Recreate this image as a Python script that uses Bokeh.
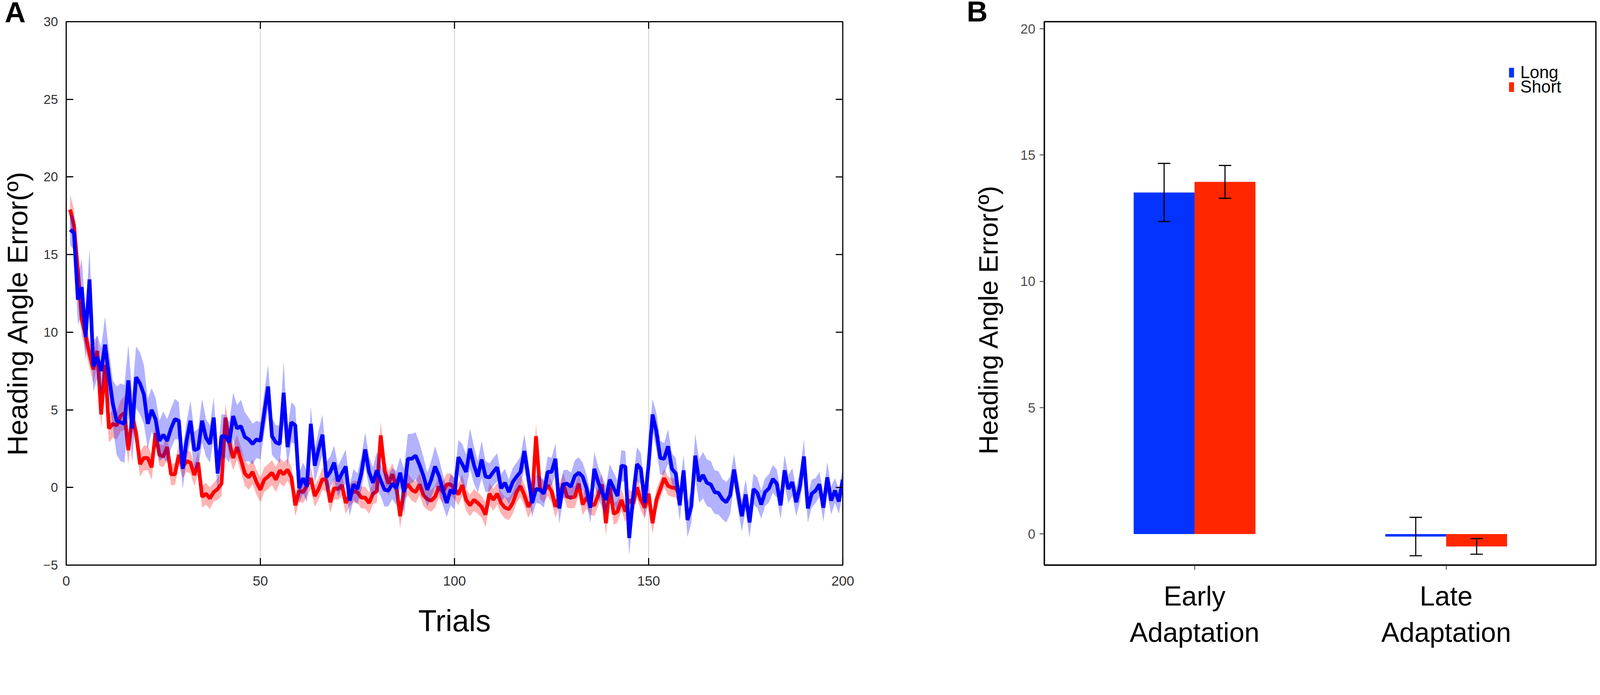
import numpy as np
from bokeh.plotting import figure
from bokeh.models import (Range1d, FixedTicker, Whisker, TeeHead, Title,
                          ColumnDataSource, Legend, LegendItem)
from bokeh.layouts import row
from bokeh.embed import file_html
from bokeh.resources import INLINE

# ---------------- data ----------------
series_names = ["Long", "Short"]

long_mean = [
    16.6, 16.4, 12.1, 12.9, 9.7, 13.4, 7.8, 8.4, 7.5, 9.2,
    7.2, 5.4, 4.3, 4.2, 4.1, 6.9, 3.8, 7.1, 6.7, 6.0,
    4.1, 5.0, 4.4, 3.0, 3.4, 3.0, 3.8, 4.4, 4.3, 1.2,
    3.0, 4.3, 2.4, 2.5, 4.3, 3.2, 2.8, 4.5, 0.9, 3.3,
    3.3, 2.9, 4.6, 3.8, 3.95, 3.25, 3.1, 2.8, 3.1, 3.0,
    4.8, 6.5, 3.3, 2.9, 2.8, 6.1, 2.6, 4.2, 4.0, -0.05,
    0.6, 0.05, 4.1, 1.4, 2.45, 3.4, 0.65, 1.0, 1.6, 0.4,
    0.9, 1.35, -0.85, 0.2, -0.1, 0.9, 2.45, 1.0, 0.3, 1.1,
    0.45, -0.15, -0.2, 0.25, -0.05, 0.95, -0.3, 1.85, 1.85, 2.05,
    1.45, 0.75, -0.15, 0.5, 1.35, 0.75, -0.15, -1.0, -0.15, -0.4,
    1.95, 1.5, 1.0, 2.5, 1.45, 0.7, 1.8, 0.7, 0.65, 1.0,
    1.3, -0.05, 0.3, -0.3, 0.35, 0.7, 1.0, 2.35, 0.7, -1.0,
    -0.1, -0.15, -0.4, 1.0, 1.0, 1.85, -1.35, 0.2, 0.25, 0.05,
    0.75, 0.95, 0.7, -0.05, -1.3, 1.2, 0.35, -0.3, -0.8, 0.5,
    -0.05, -0.55, 1.4, 1.35, -3.25, -0.6, 1.5, 1.2, -1.0, 1.5,
    4.7, 3.6, 1.9, 1.85, 2.65, 1.2, 0.9, -1.15, 1.1, -2.1,
    -1.2, 2.05, 0.4, 0.8, 0.3, 0.2, -0.3, -0.35, -0.75, -0.95,
    -0.5, 1.15, -0.4, -1.85, -0.45, -2.25, -0.1, -0.35, -1.1, -0.3,
    -0.05, 0.55, 0.25, -1.15, 1.1, -0.1, 0.35, -0.95, 0.1, 2.0,
    -1.35, -0.4, -0.2, 0.2, -1.3, 0.65, -0.85, -0.2, -0.9, 0.5,
]

long_sem = [
    1.0, 1.1, 1.6, 1.8, 1.5, 2.0, 1.6, 1.4, 1.5, 1.8,
    1.6, 1.5, 2.2, 2.5, 2.5, 2.3, 2.2, 2.0, 2.0, 1.9,
    1.6, 1.4, 1.4, 1.3, 1.5, 1.4, 1.3, 1.3, 1.2, 1.3,
    1.2, 1.3, 1.2, 1.3, 1.4, 1.2, 1.2, 1.3, 1.2, 1.4,
    1.4, 1.3, 1.5, 1.5, 1.7, 1.6, 1.4, 1.3, 1.2, 1.2,
    1.3, 1.4, 1.2, 1.1, 1.2, 2.0, 1.2, 1.3, 1.2, 1.0,
    1.0, 1.0, 1.1, 1.1, 1.2, 1.3, 1.0, 1.0, 1.1, 1.0,
    1.0, 1.1, 1.0, 1.0, 1.0, 1.1, 1.1, 1.0, 1.0, 1.2,
    1.0, 1.1, 1.0, 1.0, 1.1, 1.0, 1.5, 1.6, 1.6, 1.5,
    1.4, 1.2, 1.1, 1.2, 1.3, 1.1, 1.0, 0.9, 1.0, 1.0,
    1.1, 1.3, 1.1, 1.3, 1.2, 1.0, 1.2, 1.0, 0.9, 0.9,
    0.9, 0.9, 0.9, 0.8, 0.9, 0.9, 1.0, 1.1, 1.0, 0.9,
    0.9, 0.9, 0.9, 1.0, 0.9, 1.0, 1.0, 0.9, 0.9, 0.9,
    1.0, 1.0, 0.9, 0.9, 1.0, 1.1, 1.0, 1.0, 0.9, 1.0,
    1.0, 1.0, 1.0, 1.0, 1.1, 1.1, 1.1, 1.0, 1.0, 1.0,
    1.0, 1.2, 1.1, 1.0, 1.1, 1.0, 1.0, 1.0, 1.0, 1.1,
    1.1, 1.4, 1.4, 1.5, 1.5, 1.5, 1.4, 1.4, 1.3, 1.3,
    1.2, 1.0, 1.0, 1.0, 1.0, 1.0, 1.0, 1.0, 0.9, 0.9,
    0.9, 0.9, 0.9, 0.9, 1.0, 0.9, 0.9, 0.9, 1.0, 1.1,
    0.9, 0.9, 0.8, 0.8, 0.9, 1.0, 0.9, 0.8, 0.8, 0.8,
]

short_mean = [
    17.9, 16.9, 14.0, 10.8, 9.8, 8.6, 7.6, 8.8, 4.7, 7.9,
    3.8, 4.1, 4.0, 4.6, 4.8, 2.4, 4.6, 3.5, 1.5, 1.9,
    1.9, 1.3, 3.5, 2.1, 2.0, 2.6, 0.85, 0.85, 2.1, 1.3,
    1.7, 1.6, 0.8, 1.6, -0.6, -0.4, -0.7, -0.3, -0.1, 0.25,
    4.5, 2.9, 1.9, 2.6, 1.8, 0.9, 0.65, 1.0, 0.35, -0.15,
    0.5, 0.7, 0.95, 0.5, 1.1, 0.85, 1.15, 0.65, -1.15, -0.2,
    -0.3, 0.1, 0.6, -0.55, -0.1, 0.55, 0.45, -0.95, -0.05, -0.1,
    0.15, -1.0, -0.5, -0.25, -0.3, -0.65, -0.65, -1.0, -0.4, -0.25,
    3.35, 1.1, 0.25, 0.85, 0.1, -1.85, -0.15, 0.2, -0.15, -0.3,
    0.2, -0.5, -0.75, -0.85, -0.6, 0.05, -0.3, 0.2, 0.2, -0.05,
    -0.45, 0.15, -0.8, -1.15, -0.8, -1.0, -1.25, -1.75, -0.4, -0.8,
    -0.4, -1.0, -1.3, -1.4, -1.0, -0.3, 0.1, -0.5, -1.25, -0.8,
    3.3, -0.05, -0.3, 0.15, -0.25, -1.25, -0.5, 0.25, -0.6, -0.65,
    -0.6, 0.25, -1.1, -0.65, -1.05, -1.15, -0.5, 0.2, -2.3, 0.0,
    -1.7, -1.55, -0.8, -1.55, -0.8, -1.05, 0.0, -0.8, -1.3, -0.4,
    -2.3, -0.8, -0.1, 0.6, 0.1, 0.0, -0.05, -0.5,
]

short_sem = [
    1.0, 1.0, 1.0, 1.0, 1.0, 0.9, 0.9, 1.0, 0.9, 0.9,
    0.9, 0.9, 0.9, 1.0, 1.1, 0.9, 0.9, 0.8, 0.8, 0.8,
    0.8, 0.8, 0.8, 0.7, 0.7, 0.8, 0.7, 0.7, 0.7, 0.7,
    0.7, 0.7, 0.7, 0.7, 0.7, 0.7, 0.7, 0.6, 0.7, 0.8,
    0.9, 0.9, 0.8, 0.8, 0.8, 0.8, 0.8, 0.8, 0.8, 0.8,
    0.8, 0.8, 0.8, 0.8, 0.8, 0.8, 0.7, 0.7, 0.7, 0.7,
    0.7, 0.7, 0.7, 0.7, 0.7, 0.7, 0.7, 0.7, 0.7, 0.7,
    0.7, 0.7, 0.7, 0.7, 0.7, 0.7, 0.7, 0.7, 0.7, 0.7,
    0.9, 0.8, 0.8, 0.7, 0.7, 0.8, 0.7, 0.7, 0.7, 0.7,
    0.7, 0.7, 0.7, 0.7, 0.7, 0.7, 0.7, 0.7, 0.7, 0.7,
    0.7, 0.7, 0.7, 0.7, 0.7, 0.7, 0.7, 0.8, 0.7, 0.7,
    0.7, 0.7, 0.7, 0.7, 0.7, 0.7, 0.7, 0.7, 0.7, 0.7,
    0.8, 0.7, 0.7, 0.7, 0.7, 0.7, 0.7, 0.7, 0.7, 0.7,
    0.7, 0.7, 0.7, 0.7, 0.7, 0.7, 0.7, 0.7, 0.8, 0.7,
    0.7, 0.7, 0.7, 0.7, 0.7, 0.7, 0.7, 0.7, 0.7, 0.7,
    0.7, 0.7, 0.6, 0.6, 0.6, 0.6, 0.6, 0.6,
]

trial_ticks = [0, 50, 100, 150, 200]
trial_grid = [50, 100, 150]
angle_ticks_a = [-5, 0, 5, 10, 15, 20, 25, 30]

phases = ["Early\nAdaptation", "Late\nAdaptation"]
bar_long = [13.52, -0.10]
bar_long_err = [1.15, 0.76]
bar_short = [13.94, -0.49]
bar_short_err = [0.65, 0.31]
angle_ticks_b = [0, 5, 10, 15, 20]

panel_letters = ["A", "B"]

# ---------------- style ----------------
K = 0.952  # global pixel scale


def px(v):
    return int(round(v * K))


def fs(v):
    return f"{v * K:.1f}px"


FONT = "Liberation Sans"
LINE_BLUE = "#0000FF"
LINE_RED = "#FF0000"
BAR_BLUE = "#0433FF"
BAR_RED = "#FF2600"
YLABEL = "Heading Angle Error(º)"
LETTER_SIZE = 78


def add_letter(p, text, border_top, border_left, x_left):
    """Panel letter as a left-aligned title that sits in the top border."""
    size = LETTER_SIZE * K
    text_h = int(round(1.117 * size))
    standoff = int(border_top - 3 - text_h)
    try:
        t = Title(text=text, align="left", vertical_align="bottom",
                  offset=x_left * K - border_left, standoff=standoff,
                  text_font=FONT, text_font_size=f"{size:.1f}px",
                  text_font_style="bold", text_color="black")
        p.add_layout(t, "above")
    except Exception:
        pass


# ---------------- panel A ----------------
WA, HA = px(2560), px(1760)
LA, RA, TA, BA = px(178), px(294), px(55), px(242)
x0a, x1a, y0a, y1a = 0, 200, -5, 30
pA = figure(width=WA, height=HA, output_backend="svg", toolbar_location=None,
            x_range=Range1d(x0a, x1a), y_range=Range1d(y0a, y1a),
            min_border_left=LA, min_border_right=RA, min_border_top=TA,
            min_border_bottom=BA)
pA.background_fill_color = "white"
pA.border_fill_color = "white"
pA.outline_line_color = "black"
pA.outline_line_width = 3 * K

pA.xgrid.ticker = FixedTicker(ticks=trial_grid)
pA.xgrid.grid_line_color = "#d6d6d6"
pA.xgrid.grid_line_width = 2.5 * K
pA.ygrid.grid_line_color = None

t_long = np.arange(1, len(long_mean) + 1)
t_short = np.arange(1, len(short_mean) + 1)
lm, ls = np.array(long_mean), np.array(long_sem)
sm, ss = np.array(short_mean), np.array(short_sem)

pA.varea(x=t_short, y1=sm - ss, y2=sm + ss, fill_color=LINE_RED, fill_alpha=0.3)
pA.line(x=t_short, y=sm, line_color=LINE_RED, line_width=10 * K)
pA.varea(x=t_long, y1=lm - ls, y2=lm + ls, fill_color=LINE_BLUE, fill_alpha=0.3)
pA.line(x=t_long, y=lm, line_color=LINE_BLUE, line_width=10 * K)

TICK = 19
for ax in (pA.xaxis[0], pA.yaxis[0]):
    ax.axis_line_color = "black"
    ax.axis_line_width = 3 * K
    ax.major_tick_in = px(TICK)
    ax.major_tick_out = 0
    ax.major_tick_line_width = 3 * K
    ax.major_tick_line_color = "black"
    ax.minor_tick_line_color = None
    ax.major_label_text_font = FONT
    ax.major_label_text_color = "#333333"
    ax.axis_label_text_font = FONT
    ax.axis_label_text_font_style = "normal"
    ax.axis_label_text_color = "black"

pA.xaxis.ticker = FixedTicker(ticks=trial_ticks)
pA.xaxis.major_label_text_font_size = fs(37)
pA.xaxis.major_label_standoff = px(29)
pA.xaxis.axis_label = "Trials"
pA.xaxis.axis_label_text_font_size = fs(81)
pA.xaxis.axis_label_standoff = px(46)

pA.yaxis.ticker = FixedTicker(ticks=angle_ticks_a)
pA.yaxis.major_label_text_font_size = fs(35)
pA.yaxis.major_label_standoff = px(22)
pA.yaxis.axis_label = YLABEL + "\u00a0" * 5
pA.yaxis.axis_label_text_font_size = fs(76)
pA.yaxis.axis_label_standoff = px(24)

# mirrored inward ticks on the top and right edges of the box
frame_w_a = WA - LA - RA
frame_h_a = HA - TA - BA
tick_dy = px(TICK) / frame_h_a * (y1a - y0a)
tick_dx = px(TICK) / frame_w_a * (x1a - x0a)
tt = np.array(trial_ticks, dtype=float)
pA.segment(x0=tt, y0=np.full(len(tt), y1a), x1=tt, y1=np.full(len(tt), y1a - tick_dy),
           line_color="black", line_width=3 * K)
at = np.array(angle_ticks_a, dtype=float)
pA.segment(x0=np.full(len(at), x1a), y0=at, x1=np.full(len(at), x1a - tick_dx), y1=at,
           line_color="black", line_width=3 * K)

add_letter(pA, panel_letters[0], TA, LA, 12)

# ---------------- panel B ----------------
group_pos = np.arange(1, len(phases) + 1)
bar_w = 0.242
x_long = group_pos - bar_w / 2
x_short = group_pos + bar_w / 2

WB, HB = px(1740), px(1760)
LB, RB, TB, BB = px(248), px(8), px(58), px(217)
pB = figure(width=WB, height=HB, output_backend="svg", toolbar_location=None,
            x_range=Range1d(0.403, 2.595), y_range=Range1d(-1.23, 20.28),
            min_border_left=LB, min_border_right=RB, min_border_top=TB,
            min_border_bottom=BB)
pB.background_fill_color = "white"
pB.border_fill_color = "white"
pB.outline_line_color = "black"
pB.outline_line_width = 3.5 * K
pB.xgrid.grid_line_color = None
pB.ygrid.grid_line_color = None

r_long = pB.vbar(x=x_long, top=bar_long, bottom=0, width=bar_w,
                 fill_color=BAR_BLUE, line_color=None)
r_short = pB.vbar(x=x_short, top=bar_short, bottom=0, width=bar_w,
                  fill_color=BAR_RED, line_color=None)

for xs, vals, errs in ((x_long, bar_long, bar_long_err), (x_short, bar_short, bar_short_err)):
    v, e = np.array(vals), np.array(errs)
    src = ColumnDataSource(dict(x=xs, upper=v + e, lower=v - e))
    w = Whisker(source=src, base="x", upper="upper", lower="lower",
                line_color="black", line_width=3 * K, level="annotation",
                upper_head=TeeHead(size=px(34), line_color="black", line_width=3 * K),
                lower_head=TeeHead(size=px(34), line_color="black", line_width=3 * K))
    pB.add_layout(w)

for ax in (pB.xaxis[0], pB.yaxis[0]):
    ax.axis_line_color = "black"
    ax.axis_line_width = 3.5 * K
    ax.major_tick_in = 0
    ax.major_tick_out = px(13)
    ax.major_tick_line_width = 2 * K
    ax.major_tick_line_color = "#333333"
    ax.minor_tick_line_color = None
    ax.major_label_text_font = FONT
    ax.axis_label_text_font = FONT
    ax.axis_label_text_font_style = "normal"
    ax.axis_label_text_color = "black"

pB.xaxis.ticker = FixedTicker(ticks=list(group_pos))
pB.xaxis.major_label_overrides = {int(g): lab for g, lab in zip(group_pos, phases)}
pB.xaxis.major_label_text_font_size = fs(73)
pB.xaxis.major_label_text_color = "black"
pB.xaxis.major_label_standoff = px(29)

pB.yaxis.ticker = FixedTicker(ticks=angle_ticks_b)
pB.yaxis.major_label_text_font_size = fs(36)
pB.yaxis.major_label_text_color = "#4d4d4d"
pB.yaxis.major_label_standoff = px(12)
pB.yaxis.axis_label = YLABEL + "\u00a0" * 7
pB.yaxis.axis_label_text_font_size = fs(72)
pB.yaxis.axis_label_standoff = px(42)

legend_common = dict(orientation="vertical", glyph_width=px(17), glyph_height=px(33),
                     label_height=px(33), label_width=px(10), label_standoff=px(16),
                     spacing=0, padding=0, margin=0, border_line_color=None,
                     background_fill_alpha=0, label_text_font=FONT,
                     label_text_font_size=fs(46), label_text_color="black",
                     label_text_baseline="middle")
leg_long = Legend(items=[LegendItem(label=series_names[0], renderers=[r_long])],
                  location=(px(1248), px(1298)), **legend_common)
leg_short = Legend(items=[LegendItem(label=series_names[1], renderers=[r_short])],
                   location=(px(1248), px(1259)), **legend_common)
pB.add_layout(leg_long)
pB.add_layout(leg_short)

add_letter(pB, panel_letters[1], TB, LB, 39)

layout = row(pA, pB)
open("out.html", "w").write(file_html(layout, INLINE))
